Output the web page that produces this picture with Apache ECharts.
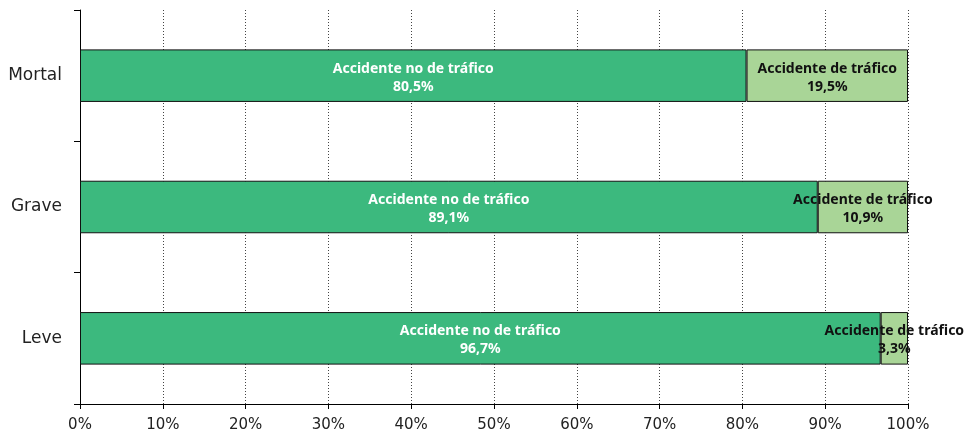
<!DOCTYPE html>
<html><head><meta charset="utf-8">
<script src="https://cdn.jsdelivr.net/npm/echarts@6/dist/echarts.min.js"></script>
<style>html,body{margin:0;padding:0;background:#fff}#c{width:980px;height:433px}</style>
</head><body><div id="c"></div>
<script>
const categories = ['Mortal', 'Grave', 'Leve'];
const noTrafico = [80.5, 89.1, 96.7];
const trafico = [19.5, 10.9, 3.3];
const seriesNames = ['Accidente no de tráfico', 'Accidente de tráfico'];
const xTicks = [0, 10, 20, 30, 40, 50, 60, 70, 80, 90, 100];

const fmt = v => v.toFixed(1).replace('.', ',') + '%';
const chart = echarts.init(document.getElementById('c'));
chart.setOption({
  animation: false,
  grid: {left: 80, right: 72, top: 10, bottom: 29},
  xAxis: {
    type: 'value', min: xTicks[0], max: xTicks[xTicks.length-1], interval: 10,
    axisLine: {show: true, lineStyle: {color: '#000', width: 1}},
    axisTick: {show: true, length: 5, lineStyle: {color: '#000'}},
    axisLabel: {formatter: '{value}%', color: '#222', fontSize: 15, fontFamily: 'DejaVu Sans', margin: 14},
    splitLine: {show: true, lineStyle: {color: '#444', type: [1, 2], width: 1}}
  },
  yAxis: {
    type: 'category', data: categories, inverse: true,
    axisLine: {show: true, lineStyle: {color: '#000', width: 1}},
    axisTick: {show: true, length: 6, lineStyle: {color: '#000'}},
    axisLabel: {color: '#222', fontSize: 17, fontFamily: 'DejaVu Sans', margin: 18},
    splitLine: {show: false}
  },
  series: [
    {
      name: seriesNames[0], type: 'bar', stack: 's', barWidth: '40%',
      data: noTrafico,
      itemStyle: {color: '#3CB97E', borderColor: '#111', borderWidth: 1},
      label: {show: true, position: 'inside', color: '#fff', fontWeight: 'bold', fontSize: 14,
        fontFamily: 'Noto Sans', lineHeight: 18, offset: [0, 2],
        formatter: p => seriesNames[0] + '\n' + fmt(p.value)}
    },
    {
      name: seriesNames[1], type: 'bar', stack: 's', barWidth: '40%',
      data: trafico,
      itemStyle: {color: '#A9D597', borderColor: '#111', borderWidth: 1},
      label: {show: true, position: 'inside', color: '#111', fontWeight: 'bold', fontSize: 14,
        fontFamily: 'Noto Sans', lineHeight: 18, offset: [0, 2],
        formatter: p => seriesNames[1] + '\n' + fmt(p.value)}
    }
  ]
});
</script></body></html>
